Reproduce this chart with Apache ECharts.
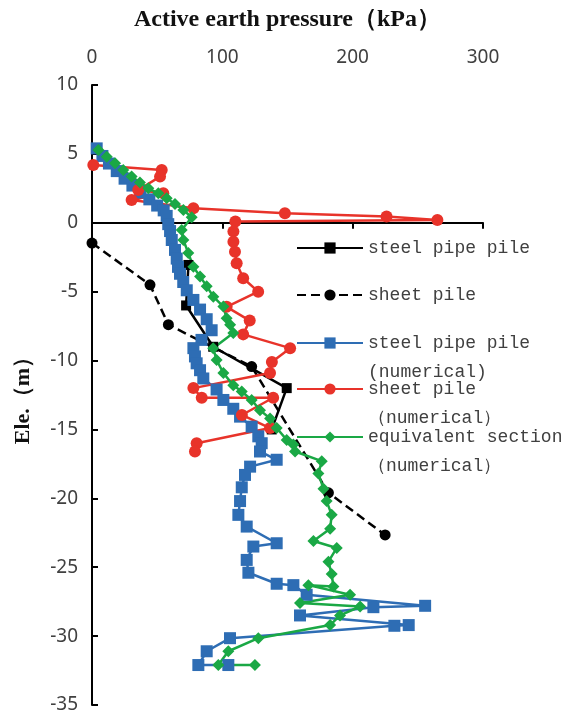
<!DOCTYPE html>
<html>
<head>
<meta charset="utf-8">
<script src="https://cdn.jsdelivr.net/npm/echarts@6/dist/echarts.min.js"></script>
<style>
  html, body { margin: 0; padding: 0; background: #fff; }
  #chart { width: 575px; height: 717px; }
</style>
</head>
<body>
<div id="chart"></div>
<script>
// Active earth pressure (kPa) against elevation (m), pairs of [pressure, elevation]
const xTicks = [0, 100, 200, 300];
const yTicks = [10, 5, 0, -5, -10, -15, -20, -25, -30, -35];

const steelPipe = [
  [74, -3.06], [72.2, -6.0], [93, -9.0], [149.4, -12.0], [137.9, -15.0]
];

const sheetPile = [
  [0, -1.47], [44.5, -4.5], [58.6, -7.4], [122.5, -10.44], [181.4, -19.6], [224.9, -22.66]
];

const steelPipeNum = [
  [3.6, 5.4], [8, 4.85], [13, 4.3], [19, 3.75], [25, 3.2], [31, 2.7], [37, 2.2], [44, 1.7],
  [50, 1.25], [55, 0.9], [57.3, 0.5], [58.5, -0.1], [59.9, -0.6], [61.2, -1.25], [63.7, -1.97],
  [65, -2.6], [66, -3.2], [67.5, -3.7], [70, -4.3], [72.7, -4.9], [77.8, -5.6], [82.9, -6.3],
  [88, -7.0], [91.8, -7.8], [84, -8.5], [77.8, -9.1], [79, -9.7], [80.3, -10.2], [82.9, -10.7],
  [85.4, -11.3], [95.6, -12.1], [100.8, -12.86], [108.4, -13.5], [113.6, -14.07], [122.5, -14.8],
  [127.6, -15.5], [130.2, -16.0], [128.9, -16.6], [141.7, -17.2], [121.3, -17.7], [117.4, -18.3],
  [114.9, -19.2], [113.6, -20.2], [112.3, -21.2], [118.7, -22.05], [141.7, -23.26], [123.8, -23.5],
  [118.7, -24.47], [120, -25.4], [141.7, -26.2], [154.5, -26.3], [164.7, -27.0], [255.6, -27.8],
  [215.9, -27.9], [159.6, -28.5], [243, -29.2], [232, -29.25], [105.9, -30.15], [88, -31.1],
  [81.6, -32.1], [104.6, -32.1]
];

const sheetPileNum = [
  [1, 4.2], [53.5, 3.83], [52.2, 3.35], [35.5, 2.38], [54.7, 2.14], [30.4, 1.65], [77.8, 1.05],
  [148, 0.69], [226, 0.45], [265, 0.2], [110, 0.1], [108.5, -0.64], [108.5, -1.37], [109.7, -2.1],
  [111, -2.94], [116, -4.03], [127.5, -5.0], [103.3, -6.1], [121, -7.1], [116, -8.1], [152, -9.1],
  [138, -10.1], [136.6, -10.9], [77.8, -12.0], [84.2, -12.7], [139, -12.7], [115, -13.95],
  [136.6, -14.9], [80.3, -16.0], [79, -16.6]
];

const equivalentNum = [
  [4.9, 5.28], [11.3, 4.8], [17.7, 4.32], [24, 3.83], [30.4, 3.35], [36.8, 2.92], [43.2, 2.5],
  [50.9, 2.14], [57.3, 1.78], [63.7, 1.36], [70.1, 0.93], [76.5, 0.4], [68.8, -0.52], [70.1, -1.25],
  [73.9, -2.2], [77.8, -3.2], [82.9, -3.9], [88, -4.6], [93.1, -5.36], [100.8, -6.08], [103.3, -6.93],
  [106, -7.4], [108.4, -8.0], [93, -9.1], [95.6, -9.96], [100.8, -10.9], [108.4, -11.8],
  [114.9, -12.25], [122.5, -12.86], [128.9, -13.6], [136.6, -14.2], [141.7, -14.9], [149.4, -15.76],
  [154.5, -16.1], [155.8, -16.6], [176.3, -17.3], [173.7, -18.2], [177.6, -19.3], [180, -20.2],
  [183.9, -21.2], [182.7, -22.2], [169.9, -23.1], [187.8, -23.6], [181.4, -24.6], [183.9, -25.5],
  [185.2, -26.4], [166, -26.3], [198, -27.0], [159.6, -27.6], [205.7, -27.85], [190.3, -28.5],
  [182.7, -29.2], [127.6, -30.15], [104.6, -31.1], [96.9, -32.1], [125, -32.1]
];

const names = [
  'steel pipe pile',
  'sheet pile',
  'steel pipe pile\n(numerical)',
  'sheet pile\n（numerical）',
  'equivalent section\n（numerical）'
];

const BLUE = '#2e6db4';
const RED = '#e8332a';
const GREEN = '#1aa845';
const BLACK = '#000000';
const LABEL = '#404040';

const chart = echarts.init(document.getElementById('chart'), null, { renderer: 'canvas' });

// One legend per entry so each can sit at its own height; two-line entries get a
// leading blank line so the first text line stays level with the icon.
function legendAt(name, iconCenterY, twoLine) {
  const lh = 29;
  return {
    data: [name],
    left: 296,
    top: twoLine ? iconCenterY - 1.5 * lh : iconCenterY - 0.5 * lh,
    padding: 0,
    itemWidth: 66,
    itemHeight: 14,
    selectedMode: false,
    formatter: function (n) { return twoLine ? '\n' + n : n; },
    textStyle: {
      fontFamily: 'Liberation Mono',
      fontSize: 18,
      color: LABEL,
      lineHeight: lh
    }
  };
}

function lineSeries(name, data, color, symbol, size, dashed) {
  return {
    name: name,
    type: 'line',
    data: data,
    symbol: symbol,
    symbolSize: size,
    clip: false,
    itemStyle: { color: color },
    lineStyle: { color: color, width: 2.5, type: dashed ? [9, 5] : 'solid' },
    emphasis: { disabled: true }
  };
}

chart.setOption({
  animation: false,
  backgroundColor: '#ffffff',
  grid: { left: 92, right: 92, top: 85, bottom: 12 },
  legend: [
    legendAt(names[0], 248, false),
    legendAt(names[1], 295, false),
    legendAt(names[2], 343, true),
    legendAt(names[3], 389, true),
    legendAt(names[4], 437, true)
  ],
  xAxis: {
    type: 'value',
    position: 'top',
    min: xTicks[0],
    max: xTicks[xTicks.length - 1],
    interval: 100,
    name: 'Active earth pressure（kPa）',
    nameLocation: 'middle',
    nameGap: 53,
    nameTextStyle: { fontFamily: 'Liberation Serif', fontWeight: 'bold', fontSize: 24, color: '#111' },
    axisLine: { lineStyle: { color: '#000', width: 2 } },
    axisTick: { inside: true, length: 6, lineStyle: { color: '#000', width: 2 } },
    axisLabel: { fontFamily: 'Noto Sans', fontSize: 19, color: LABEL, margin: 18 },
    splitLine: { show: false }
  },
  yAxis: {
    type: 'value',
    min: yTicks[yTicks.length - 1],
    max: yTicks[0],
    interval: 5,
    name: 'Ele.（m）',
    nameLocation: 'middle',
    nameGap: 58,
    nameTextStyle: { fontFamily: 'Liberation Serif', fontWeight: 'bold', fontSize: 22, color: '#111' },
    axisLine: { lineStyle: { color: '#000', width: 2 } },
    axisTick: { inside: true, length: 6, lineStyle: { color: '#000', width: 2 } },
    axisLabel: { fontFamily: 'Noto Sans', fontSize: 19, color: LABEL, margin: 14 },
    splitLine: { show: false }
  },
  series: [
    lineSeries(names[0], steelPipe, BLACK, 'rect', 10, false),
    lineSeries(names[1], sheetPile, BLACK, 'circle', 11, true),
    lineSeries(names[2], steelPipeNum, BLUE, 'rect', 12, false),
    lineSeries(names[3], sheetPileNum, RED, 'circle', 12, false),
    lineSeries(names[4], equivalentNum, GREEN, 'diamond', 12, false)
  ]
});
</script>
</body>
</html>
